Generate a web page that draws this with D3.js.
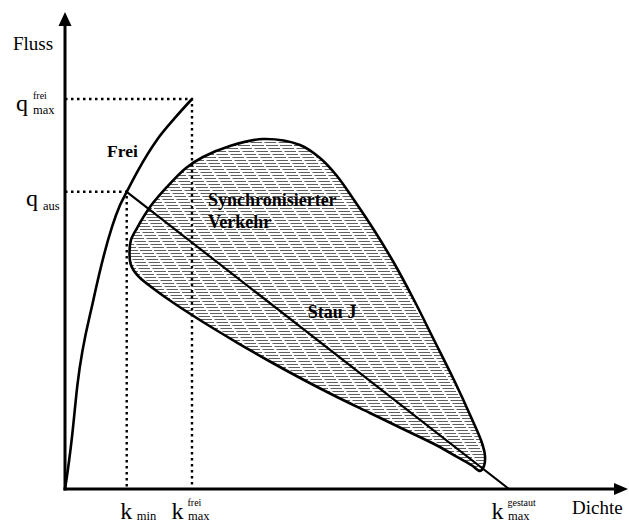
<!DOCTYPE html>
<html>
<head>
<meta charset="utf-8">
<script src="https://cdn.jsdelivr.net/npm/d3@7"></script>
<style>
  html, body { margin: 0; padding: 0; background: #fff; }
  svg { display: block; }
  text { font-family: "Liberation Serif", "Times New Roman", serif; fill: #000; }
</style>
</head>
<body>
<script>
// Fundamental diagram: free flow branch, jam line J and the synchronized-flow region.
const width = 629, height = 524;

// density k and flow q in relative units (k_max gestaut = 100, q_max frei = 100)
const kMin = 13.9;
const qAus = 76.2;
const kMaxFrei = 28.6;
const qMaxFrei = 100;
const kMaxGestaut = 100;

// free flow branch
const freeK = [0, 0.38, 1.5, 2.8, 6.4, 12.4, 13.9, 16.4, 20.7, 24.8, 28.6];
const freeQ = [0, 2.8, 12.6, 26.7, 48.5, 72.8, 76.2, 81.6, 89.5, 95.2, 100];

// outline of the synchronized-flow region (clockwise from the top)
const syncK = [44.59, 52.93, 57.43, 61.26, 65.09, 69.59, 74.10, 78.60, 83.11, 87.61, 91.44, 93.92, 94.59, 94.37, 93.47,
               91.67, 88.51, 83.78, 76.13, 68.69, 61.26, 53.60, 46.17, 38.74, 31.08, 23.65, 19.14, 16.44, 14.86, 14.53,
               14.86, 16.22, 19.14, 22.97, 27.25, 31.08, 37.16];
const syncQ = [89.74, 88.21, 84.87, 80.26, 74.10, 66.41, 57.95, 48.46, 38.21, 27.95, 18.46, 11.79, 8.46, 5.90, 4.62,
               6.03, 8.08, 11.15, 15.38, 19.49, 23.59, 28.08, 32.69, 37.56, 42.82, 48.33, 52.05, 54.62, 57.44, 60.77,
               63.85, 66.92, 72.31, 77.44, 82.31, 85.13, 87.95];

// axis marks
const kTicks = [
  { base: "k", sub: "min", sup: "", value: kMin },
  { base: "k", sub: "max", sup: "frei", value: kMaxFrei },
  { base: "k", sub: "max", sup: "gestaut", value: kMaxGestaut }
];
const qTicks = [
  { base: "q", sub: "max", sup: "frei", value: qMaxFrei },
  { base: "q", sub: "aus", sup: "", value: qAus }
];
const axisTitles = { x: "Dichte", y: "Fluss" };
const regionLabels = { free: "Frei", sync: ["Synchronisierter", "Verkehr"], jam: "Stau J" };

const x = d3.scaleLinear().domain([0, 100]).range([65, 509]);
const y = d3.scaleLinear().domain([0, 100]).range([489, 99]);

const svg = d3.select("body").append("svg")
  .attr("width", width).attr("height", height);

// horizontal hatching with staggered gaps
const defs = svg.append("defs");
const pat = defs.append("pattern")
  .attr("id", "hatch")
  .attr("patternUnits", "userSpaceOnUse")
  .attr("width", 14).attr("height", 21);
d3.range(7).forEach(i => {
  const gx = i * 2;
  pat.append("rect")
    .attr("x", 0).attr("y", i * 3 + 1).attr("width", 14).attr("height", 1)
    .attr("fill", "#5f5f5f");
  pat.append("rect")
    .attr("x", gx).attr("y", i * 3 + 1).attr("width", 2.5).attr("height", 1)
    .attr("fill", "#fff");
});

const line = d3.line().x(d => x(d[0])).y(d => y(d[1]));

// synchronized-flow region
const syncPts = syncK.map((k, i) => [k, syncQ[i]]);
svg.append("path")
  .attr("d", line.curve(d3.curveCatmullRomClosed.alpha(0.5))(syncPts))
  .attr("fill", "url(#hatch)")
  .attr("stroke", "#000")
  .attr("stroke-width", 2.6);

// dotted guide lines
const dotted = svg.append("g")
  .attr("fill", "none").attr("stroke", "#000")
  .attr("stroke-width", 2.4).attr("stroke-dasharray", "2.5 3.5");
dotted.append("path").attr("d", line.curve(d3.curveLinear)([[0, qMaxFrei], [kMaxFrei, qMaxFrei], [kMaxFrei, 0]]));
dotted.append("path").attr("d", line.curve(d3.curveLinear)([[0, qAus], [kMin, qAus], [kMin, 0]]));

// free flow branch
const freePts = freeK.map((k, i) => [k, freeQ[i]]);
svg.append("path")
  .attr("d", line.curve(d3.curveMonotoneX)(freePts))
  .attr("fill", "none").attr("stroke", "#000").attr("stroke-width", 2.6);

// jam line J
svg.append("path")
  .attr("d", line.curve(d3.curveLinear)([[kMin, qAus], [kMaxGestaut, 0]]))
  .attr("fill", "none").attr("stroke", "#000").attr("stroke-width", 2.2);

// axes with arrow heads
const x0 = x(0), y0 = y(0);
const xEnd = 628, yEnd = 12;
svg.append("line").attr("x1", x0).attr("y1", y0 + 1.5).attr("x2", x0).attr("y2", yEnd + 12)
  .attr("stroke", "#000").attr("stroke-width", 3);
svg.append("line").attr("x1", x0 - 1.5).attr("y1", y0).attr("x2", xEnd - 12).attr("y2", y0)
  .attr("stroke", "#000").attr("stroke-width", 3);
svg.append("path")
  .attr("d", `M${x0},${yEnd} L${x0 - 6.5},${yEnd + 14} L${x0 + 6.5},${yEnd + 14} Z`)
  .attr("fill", "#000");
svg.append("path")
  .attr("d", `M${xEnd},${y0} L${xEnd - 14},${y0 - 6} L${xEnd - 14},${y0 + 6} Z`)
  .attr("fill", "#000");

// axis titles
svg.append("text").attr("x", 13).attr("y", 50).attr("font-size", 19).text(axisTitles.y);
svg.append("text").attr("x", 572).attr("y", 514).attr("font-size", 19).text(axisTitles.x);

// density marks under the axis
const kOffsets = [-6.5, -20.5, -17.5];
kTicks.forEach((t, i) => {
  const bx = x(t.value) + kOffsets[i];
  const g = svg.append("g");
  g.append("text").attr("x", bx).attr("y", 519).attr("font-size", 24).text(t.base);
  if (t.sup) g.append("text").attr("x", bx + 16).attr("y", 506).attr("font-size", 10).text(t.sup);
  g.append("text").attr("x", bx + 16.5).attr("y", 520).attr("font-size", 12.5).text(t.sub);
});

// flow marks left of the axis
const qPos = [{ bx: 16, dy: 12 }, { bx: 26, dy: 14 }];
qTicks.forEach((t, i) => {
  const by = y(t.value) + qPos[i].dy;
  const bx = qPos[i].bx;
  const g = svg.append("g");
  g.append("text").attr("x", bx).attr("y", by).attr("font-size", 24).text(t.base);
  if (t.sup) g.append("text").attr("x", bx + 17).attr("y", by - 12).attr("font-size", 10).text(t.sup);
  g.append("text").attr("x", bx + 17).attr("y", by + (t.sup ? 3 : 4)).attr("font-size", 12.5).text(t.sub);
});

// region labels
const bold = sel => sel.attr("font-weight", "bold").attr("font-size", 18);
svg.append("text").attr("x", x(9.46)).attr("y", y(85.1)).call(bold).attr("font-size", 17.5).text(regionLabels.free);
svg.append("text").attr("x", x(32.2)).attr("y", y(72.6)).call(bold).text(regionLabels.sync[0]);
svg.append("text").attr("x", x(32.2)).attr("y", y(66.9)).call(bold).text(regionLabels.sync[1]);
svg.append("text").attr("x", x(54.7)).attr("y", y(43.8)).call(bold).text(regionLabels.jam);
</script>
</body>
</html>
